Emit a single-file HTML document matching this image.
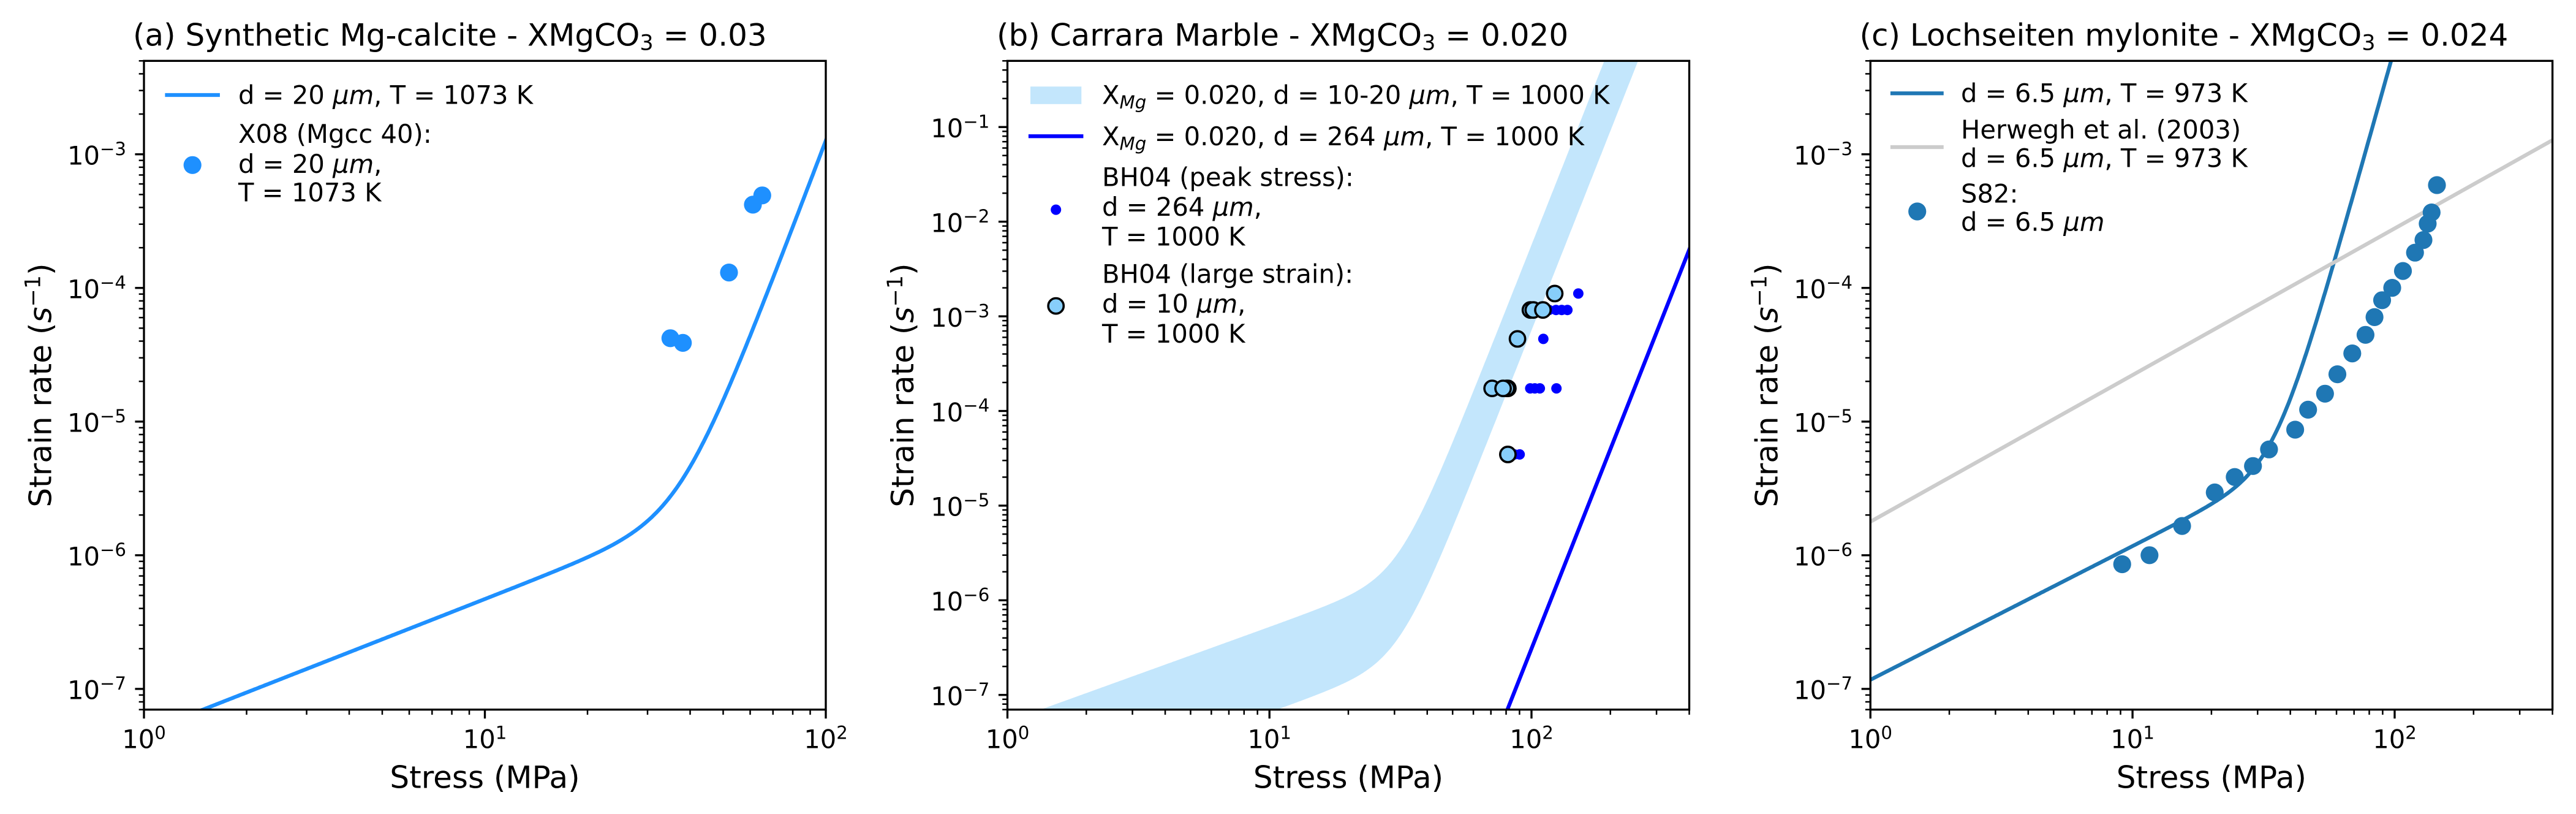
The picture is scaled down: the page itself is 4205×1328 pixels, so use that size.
<!DOCTYPE html>
<html><head><meta charset="utf-8">
<style>
html,body{margin:0;padding:0;background:#fff;}
svg{display:block;}
text{font-family:"DejaVu Sans","Liberation Sans",sans-serif;fill:#000;}
</style></head>
<body>
<svg id="s" xmlns="http://www.w3.org/2000/svg" width="4205" height="1328" viewBox="0 0 4205 1328">
<rect x="0" y="0" width="4205" height="1328" fill="#fff"/>
<defs>
<clipPath id="ca"><rect x="235" y="99.3" width="1113" height="1058.4"/></clipPath>
<clipPath id="cb"><rect x="1644.5" y="99.3" width="1113" height="1058.4"/></clipPath>
<clipPath id="cc"><rect x="3053.2" y="99.3" width="1113.4" height="1058.4"/></clipPath>
</defs>

<!-- ===== Panel A data ===== -->
<g id="ga" clip-path="url(#ca)"></g>
<g clip-path="url(#ca)" fill="#1e90ff">
<circle cx="1244.3" cy="318.8" r="14.6"/>
<circle cx="1229" cy="333.9" r="14.6"/>
<circle cx="1190" cy="444.6" r="14.6"/>
<circle cx="1094.3" cy="551.8" r="14.6"/>
<circle cx="1114.7" cy="559.4" r="14.6"/>
</g>

<!-- ===== Panel B data ===== -->
<g id="gb" clip-path="url(#cb)"></g>
<g clip-path="url(#cb)">
<line x1="2448.7" y1="1187.9" x2="2778" y2="355.6" stroke="#0000ff" stroke-width="6.25"/>
<g fill="#0000ff">
<circle cx="2576.4" cy="478.9" r="8.5"/>
<circle cx="2528.6" cy="505.7" r="8.5"/>
<circle cx="2540" cy="505.7" r="8.5"/>
<circle cx="2549.3" cy="505.7" r="8.5"/>
<circle cx="2558.6" cy="505.7" r="8.5"/>
<circle cx="2519.3" cy="552.9" r="8.5"/>
<circle cx="2497.9" cy="633.6" r="8.5"/>
<circle cx="2505.4" cy="633.6" r="8.5"/>
<circle cx="2513.6" cy="633.6" r="8.5"/>
<circle cx="2540.7" cy="633.6" r="8.5"/>
<circle cx="2472" cy="741.4" r="8.5"/>
<circle cx="2480.7" cy="741.4" r="8.5"/>
</g>
<g fill="#87cefa" stroke="#000" stroke-width="3.6">
<circle cx="2537.9" cy="478.9" r="12.6"/>
<circle cx="2498.2" cy="505.7" r="12.6"/>
<circle cx="2502.9" cy="505.7" r="12.6"/>
<circle cx="2518.6" cy="505.7" r="12.6"/>
<circle cx="2477.1" cy="552.9" r="12.6"/>
<circle cx="2461.4" cy="633.6" r="12.6"/>
<circle cx="2458.9" cy="633.6" r="12.6"/>
<circle cx="2435.7" cy="633.6" r="12.6"/>
<circle cx="2453.6" cy="633.6" r="12.6"/>
<circle cx="2461.4" cy="741.4" r="12.6"/>
</g>
</g>

<!-- ===== Panel C data ===== -->
<g id="gc" clip-path="url(#cc)"></g>
<g clip-path="url(#cc)">
<line x1="3031.8" y1="863.1" x2="4187.1" y2="217.2" stroke="#cccccc" stroke-width="6.25"/>
<g fill="#1f77b4">
<circle cx="3978.0" cy="302.0" r="14.6"/>
<circle cx="3969.3" cy="346.6" r="14.6"/>
<circle cx="3962.9" cy="364.9" r="14.6"/>
<circle cx="3956.0" cy="391.6" r="14.6"/>
<circle cx="3942.2" cy="412.2" r="14.6"/>
<circle cx="3922.5" cy="442.1" r="14.6"/>
<circle cx="3905.0" cy="469.6" r="14.6"/>
<circle cx="3888.5" cy="489.8" r="14.6"/>
<circle cx="3876.1" cy="517.4" r="14.6"/>
<circle cx="3861.4" cy="546.3" r="14.6"/>
<circle cx="3839.8" cy="576.6" r="14.6"/>
<circle cx="3815.5" cy="610.6" r="14.6"/>
<circle cx="3795.3" cy="642.3" r="14.6"/>
<circle cx="3767.7" cy="668.4" r="14.6"/>
<circle cx="3746.6" cy="701.0" r="14.6"/>
<circle cx="3703.9" cy="733.2" r="14.6"/>
<circle cx="3677.7" cy="760.3" r="14.6"/>
<circle cx="3647.9" cy="778.2" r="14.6"/>
<circle cx="3615.3" cy="803.4" r="14.6"/>
<circle cx="3562.0" cy="858.1" r="14.6"/>
<circle cx="3508.8" cy="905.8" r="14.6"/>
<circle cx="3464.2" cy="920.5" r="14.6"/>
</g>
</g>

<!-- ===== Spines ===== -->
<g fill="none" stroke="#000" stroke-width="3.33">
<rect x="235" y="99.3" width="1113" height="1058.4"/>
<rect x="1644.5" y="99.3" width="1113" height="1058.4"/>
<rect x="3053.2" y="99.3" width="1113.4" height="1058.4"/>
</g>
<g id="ticks"></g>

<!-- ===== Titles ===== -->
<text x="217" y="74.5" font-size="50">(a) Synthetic Mg-calcite - XMgCO<tspan font-size="35" dy="7">3</tspan><tspan dy="-7"> = 0.03</tspan></text>
<text x="1627" y="74.5" font-size="50">(b) Carrara Marble - XMgCO<tspan font-size="35" dy="7">3</tspan><tspan dy="-7"> = 0.020</tspan></text>
<text x="3035.5" y="74.5" font-size="50">(c) Lochseiten mylonite - XMgCO<tspan font-size="35" dy="7">3</tspan><tspan dy="-7"> = 0.024</tspan></text>

<!-- ===== Axis labels ===== -->
<text x="791.5" y="1285.7" font-size="50" text-anchor="middle">Stress (MPa)</text>
<text x="2201" y="1285.7" font-size="50" text-anchor="middle">Stress (MPa)</text>
<text x="3609.9" y="1285.7" font-size="50" text-anchor="middle">Stress (MPa)</text>
<text transform="translate(83.5,628.5) rotate(-90)" font-size="50" text-anchor="middle">Strain rate (<tspan font-style="italic">s</tspan><tspan font-size="35" dy="-18">−1</tspan><tspan dy="18">)</tspan></text>
<text transform="translate(1491,628.5) rotate(-90)" font-size="50" text-anchor="middle">Strain rate (<tspan font-style="italic">s</tspan><tspan font-size="35" dy="-18">−1</tspan><tspan dy="18">)</tspan></text>
<text transform="translate(2901.5,628.5) rotate(-90)" font-size="50" text-anchor="middle">Strain rate (<tspan font-style="italic">s</tspan><tspan font-size="35" dy="-18">−1</tspan><tspan dy="18">)</tspan></text>

<!-- ===== X tick labels ===== -->
<g font-size="41.67" text-anchor="middle">
<text x="235" y="1220.7">10<tspan font-size="29.2" dy="-15">0</tspan></text>
<text x="791.5" y="1220.7">10<tspan font-size="29.2" dy="-15">1</tspan></text>
<text x="1348" y="1220.7">10<tspan font-size="29.2" dy="-15">2</tspan></text>
<text x="1644.5" y="1220.7">10<tspan font-size="29.2" dy="-15">0</tspan></text>
<text x="2072.2" y="1220.7">10<tspan font-size="29.2" dy="-15">1</tspan></text>
<text x="2500" y="1220.7">10<tspan font-size="29.2" dy="-15">2</tspan></text>
<text x="3053.2" y="1220.7">10<tspan font-size="29.2" dy="-15">0</tspan></text>
<text x="3481.1" y="1220.7">10<tspan font-size="29.2" dy="-15">1</tspan></text>
<text x="3909" y="1220.7">10<tspan font-size="29.2" dy="-15">2</tspan></text>
</g>

<!-- ===== Y tick labels ===== -->
<g font-size="41.67" text-anchor="end">
<text x="206" y="268.5">10<tspan font-size="29.2" dy="-15.6">−3</tspan></text>
<text x="206" y="486.5">10<tspan font-size="29.2" dy="-15.6">−4</tspan></text>
<text x="206" y="704.6">10<tspan font-size="29.2" dy="-15.6">−5</tspan></text>
<text x="206" y="922.6">10<tspan font-size="29.2" dy="-15.6">−6</tspan></text>
<text x="206" y="1140.7">10<tspan font-size="29.2" dy="-15.6">−7</tspan></text>

<text x="1615.3" y="224.0">10<tspan font-size="29.2" dy="-15.6">−1</tspan></text>
<text x="1615.3" y="378.5">10<tspan font-size="29.2" dy="-15.6">−2</tspan></text>
<text x="1615.3" y="532.9">10<tspan font-size="29.2" dy="-15.6">−3</tspan></text>
<text x="1615.3" y="687.3">10<tspan font-size="29.2" dy="-15.6">−4</tspan></text>
<text x="1615.3" y="841.7">10<tspan font-size="29.2" dy="-15.6">−5</tspan></text>
<text x="1615.3" y="996.1">10<tspan font-size="29.2" dy="-15.6">−6</tspan></text>
<text x="1615.3" y="1150.6">10<tspan font-size="29.2" dy="-15.6">−7</tspan></text>

<text x="3024" y="268.5">10<tspan font-size="29.2" dy="-15.6">−3</tspan></text>
<text x="3024" y="486.5">10<tspan font-size="29.2" dy="-15.6">−4</tspan></text>
<text x="3024" y="704.6">10<tspan font-size="29.2" dy="-15.6">−5</tspan></text>
<text x="3024" y="922.6">10<tspan font-size="29.2" dy="-15.6">−6</tspan></text>
<text x="3024" y="1140.7">10<tspan font-size="29.2" dy="-15.6">−7</tspan></text>
</g>

<!-- ===== Legend A ===== -->
<line x1="272.5" y1="155" x2="355.8" y2="155" stroke="#1e90ff" stroke-width="6.25" stroke-linecap="square"/>
<circle cx="314.2" cy="269.3" r="14.6" fill="#1e90ff"/>
<g font-size="41.67">
<text x="389" y="169.4">d = 20 <tspan font-style="italic">μm</tspan>, T = 1073 K</text>
<text x="389" y="233">X08 (Mgcc 40):</text>
<text x="389" y="282">d = 20 <tspan font-style="italic">μm</tspan>,</text>
<text x="389" y="328.6">T = 1073 K</text>
</g>

<!-- ===== Legend B ===== -->
<rect x="1682" y="141.2" width="83.3" height="28.6" fill="#c3e6fc"/>
<line x1="1682" y1="222.2" x2="1765.3" y2="222.2" stroke="#0000ff" stroke-width="6.25" stroke-linecap="square"/>
<circle cx="1723.7" cy="342.1" r="8.5" fill="#0000ff"/>
<circle cx="1723.7" cy="499.1" r="12.6" fill="#87cefa" stroke="#000" stroke-width="3.6"/>
<g font-size="41.67">
<text x="1799" y="169.4">X<tspan font-size="29.2" font-style="italic" dy="7.5">Mg</tspan><tspan dy="-7.5"> = 0.020, d = 10-20 </tspan><tspan font-style="italic">μm</tspan>, T = 1000 K</text>
<text x="1799" y="237">X<tspan font-size="29.2" font-style="italic" dy="7.5">Mg</tspan><tspan dy="-7.5"> = 0.020, d = 264 </tspan><tspan font-style="italic">μm</tspan>, T = 1000 K</text>
<text x="1799" y="303.5">BH04 (peak stress):</text>
<text x="1799" y="352">d = 264 <tspan font-style="italic">μm</tspan>,</text>
<text x="1799" y="400.5">T = 1000 K</text>
<text x="1799" y="461.3">BH04 (large strain):</text>
<text x="1799" y="510">d = 10 <tspan font-style="italic">μm</tspan>,</text>
<text x="1799" y="559">T = 1000 K</text>
</g>

<!-- ===== Legend C ===== -->
<line x1="3089" y1="152.3" x2="3169.6" y2="152.3" stroke="#1f77b4" stroke-width="6.25" stroke-linecap="square"/>
<line x1="3089" y1="240" x2="3169.6" y2="240" stroke="#cccccc" stroke-width="6.25" stroke-linecap="square"/>
<circle cx="3129.7" cy="345" r="14.6" fill="#1f77b4"/>
<g font-size="41.67">
<text x="3201" y="166.7">d = 6.5 <tspan font-style="italic">μm</tspan>, T = 973 K</text>
<text x="3201" y="226">Herwegh et al. (2003)</text>
<text x="3201" y="272.3">d = 6.5 <tspan font-style="italic">μm</tspan>, T = 973 K</text>
<text x="3201" y="330.7">S82:</text>
<text x="3201" y="376.7">d = 6.5 <tspan font-style="italic">μm</tspan></text>
</g>
</svg>

<script>
(function(){
var NS="http://www.w3.org/2000/svg";
function el(parent, tag, attrs){var e=document.createElementNS(NS,tag);for(var k in attrs)e.setAttribute(k,attrs[k]);parent.appendChild(e);return e;}
var P={
 a:{x0:235,dx:556.5,yt:-2.30103,dy:218.05,xm:2,yb:-7.1549},
 b:{x0:1644.5,dx:427.74,yt:-0.30103,dy:154.42,xm:2.60206,yb:-7.1549},
 c:{x0:3053.2,dx:427.89,yt:-2.30103,dy:218.05,xm:2.60206,yb:-7.1549}
};
function X(p,l){return p.x0+l*p.dx;}
function Y(p,l){return 99.3+(p.yt-l)*p.dy;}
function curve(p,f,from,to){var pts=[];for(var l=from;l<=to+1e-9;l+=0.004){var e=Math.log10(f(Math.pow(10,l)));var y=Y(p,e);if(y<-500)y=-500;pts.push([X(p,l),y]);}return pts;}
function str(pts){return pts.map(function(q){return q[0].toFixed(1)+','+q[1].toFixed(1);}).join(' ');}

// Panel A curve
var fa=function(s){return 4.7e-8*s+1.26e-3*Math.pow(s/100,6.7);};
el(document.getElementById('ga'),'polyline',{points:str(curve(P.a,fa,-0.05,2.05)),fill:'none',stroke:'#1e90ff','stroke-width':6.25,'stroke-linejoin':'round'});

// Panel B band
var K10=Math.pow(10,-16.246);
var fu=function(s){return 5.23e-8*s+K10*Math.pow(s,7);};
var fl=function(s){return fu(s)/8;};
var up=curve(P.b,fu,-0.05,2.7);
var lo=curve(P.b,fl,-0.05,2.7).reverse();
el(document.getElementById('gb'),'polygon',{points:str(up.concat(lo)),fill:'#c3e6fc',stroke:'none'});

// Panel C curve
var KC=Math.pow(10,-16.206);
var fc=function(s){return 1.17e-7*s+KC*Math.pow(s,7);};
el(document.getElementById('gc'),'polyline',{points:str(curve(P.c,fc,-0.05,2.05)),fill:'none',stroke:'#1f77b4','stroke-width':6.25,'stroke-linejoin':'round'});

// Ticks
var T=document.getElementById('ticks');
function tick(x1,y1,x2,y2,w){el(T,'line',{x1:x1,y1:y1,x2:x2,y2:y2,stroke:'#000','stroke-width':w});}
for(var key in P){var p=P[key];
 for(var k=0;k<=2;k++)for(var m=1;m<=9;m++){var v=k+Math.log10(m);if(v>p.xm+1e-6)continue;var x=X(p,v);var maj=(m==1);tick(x,1157.7,x,1157.7+(maj?14.58:8.33),maj?3.33:2.5);}
 for(var k2=-8;k2<=0;k2++)for(var m2=1;m2<=9;m2++){var v2=k2+Math.log10(m2);if(v2<p.yb-1e-4||v2>p.yt+1e-4)continue;var y=Y(p,v2);var maj2=(m2==1);tick(p.x0,y,p.x0-(maj2?14.58:8.33),y,maj2?3.33:2.5);}
}
})();
</script>
</body></html>
